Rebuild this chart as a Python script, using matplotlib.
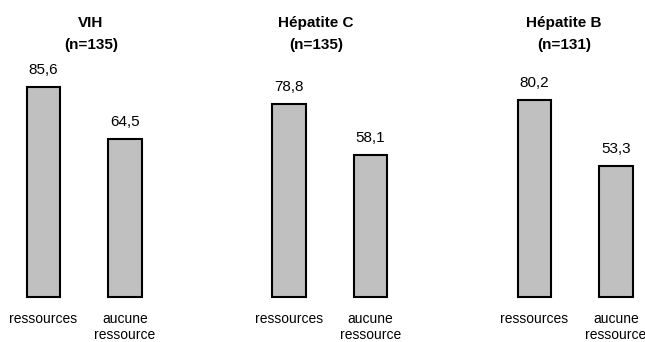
import numpy as np
import matplotlib.pyplot as plt

plt.rcParams['font.family'] = ['Liberation Sans', 'DejaVu Sans']

groups = ["VIH", "Hépatite C", "Hépatite B"]
group_n = [135, 135, 131]
bar_labels = ["ressources", "aucune\nressource"]
with_resources = [85.6, 78.8, 80.2]
without_resources = [64.5, 58.1, 53.3]

# title centres, in bar units relative to each group's first bar
title_offsets = [0.58, 0.33, 0.36]

fig = plt.figure(figsize=(6.45, 3.42), dpi=100)
ax = fig.add_axes([0, 0, 1, 1])

for g, name in enumerate(groups):
    x0 = g * 3.012
    values = [with_resources[g], without_resources[g]]
    xs = x0 + np.arange(2)
    bars = ax.bar(xs, values, width=0.41, color="#c0c0c0",
                  edgecolor="black", linewidth=1.5)
    for b, v in zip(bars, values):
        ax.annotate(f"{v:.1f}".replace(".", ","),
                    (b.get_x() + b.get_width() / 2, v),
                    xytext=(0, 10), textcoords="offset pixels",
                    ha="center", va="bottom", fontsize=11)
    for x, lab in zip(xs, bar_labels):
        ax.text(x, -6.0, lab, ha="center", va="top", fontsize=10,
                linespacing=1.2)
    ax.text(x0 + title_offsets[g], 111.7, name, ha="center", va="center",
            fontsize=11, fontweight="bold")
    ax.text(x0 + title_offsets[g], 102.7, f"(n={group_n[g]})", ha="center",
            va="center", fontsize=11, fontweight="bold")

ax.set_xlim(-0.534, 7.38)
ax.set_ylim(-18.35, 121.1)
ax.axis("off")

fig.savefig("out.png", dpi=100, facecolor="white")
